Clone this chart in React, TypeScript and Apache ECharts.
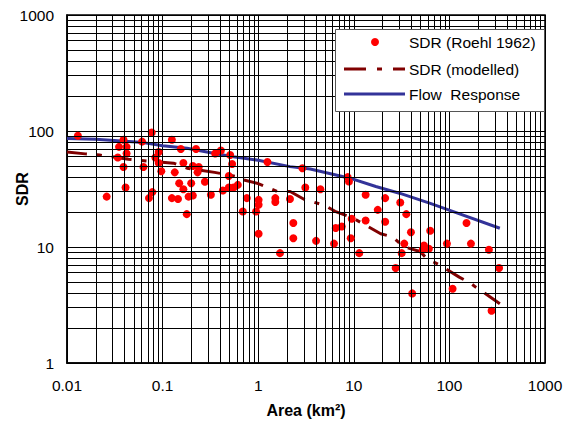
import React, { useEffect, useRef } from 'react';
import * as echarts from 'echarts';

// Observed SDR (Roehl 1962): catchment area (km²) and SDR (%)
const roehlArea = [
  0.013, 0.077, 0.039, 0.035, 0.042, 0.061, 0.125, 0.091, 0.042, 0.034,
  0.084, 0.091, 0.039, 0.063, 0.097, 0.155, 0.224, 0.165, 0.207, 0.239,
  0.232, 0.134, 0.355, 0.407, 0.509, 0.534, 0.493, 0.277, 0.149, 0.199,
  0.165, 0.041, 0.078, 0.072, 0.026, 0.125, 0.145, 0.187, 0.207, 0.32,
  0.427, 0.493, 0.551, 0.612, 0.76, 1.01, 1.01, 1.51, 1.51, 2.15,
  0.69, 0.95, 0.179, 1.01, 1.69, 1.25, 2.9, 8.63, 8.9, 3.11,
  4.47, 13.3, 21.3, 30.6, 17.8, 35.4, 2.33, 2.33, 4.03, 6.21,
  6.47, 7.48, 9.5, 13.3, 9.29, 11.4, 21.3, 39.6, 33.7, 31.7,
  27.4, 40.8, 54.2, 52.5, 61, 63, 94.2, 108, 151, 168,
  259, 331, 276,
];
const roehlSDR = [
  91, 97, 84, 73, 73, 81, 84, 66, 64, 59,
  59, 53, 49, 49, 45, 70, 70, 53, 50, 49,
  44, 44, 64, 68, 62, 52, 41, 36.5, 35.5, 35.5,
  31.5, 32.6, 29.7, 26.4, 27.2, 26.4, 25.9, 27.2, 27.8, 28.2,
  30.7, 32.6, 32.6, 34.3, 26.4, 25.5, 23.1, 26.4, 24.4, 25.9,
  20.2, 20.2, 19.2, 13, 8.86, 54, 47.8, 40, 36.7, 32.6,
  31.5, 28.2, 26.4, 24.2, 20.9, 19.2, 16.1, 11.9, 11.3, 10.7,
  14.6, 15, 17.5, 16.9, 11.9, 8.86, 16.5, 13.4, 10.7, 8.86,
  6.58, 3.98, 10.3, 9.46, 9.66, 13.8, 10.7, 4.37, 16.1, 10.7,
  9.46, 6.58, 2.82,
];

// Modelled SDR
const modelArea = [
  0.01, 0.0155, 0.022, 0.044, 0.071, 0.13, 0.18, 0.35, 0.6, 0.7,
  0.97, 1.58, 2.16, 2.98, 3.78, 5.0, 6.36, 9.88, 19.1, 25.5,
  32.9, 49.2, 58.6, 80.9, 126.7, 166, 188, 239, 337,
];
const modelSDR = [
  66, 63.5, 62, 57, 55, 52.8, 47.8, 44, 40.5, 37.9,
  35.5, 30.1, 30.1, 25.9, 24.4, 22.8, 20.3, 17.7, 13, 12.2,
  10.1, 9.15, 7.9, 6.93, 5.5, 4.89, 4.51, 3.95, 3.24,
];

// Flow response
const flowArea = [0.01, 0.02, 0.063, 0.1, 0.18, 0.34, 0.55, 1.0, 2.15, 3.5, 9.1, 17, 30, 62, 110, 337];
const flowSDR = [86, 85, 79.4, 74.5, 71, 64.4, 60, 56, 49.3, 47, 39.2, 33.2, 29.1, 23.9, 20.2, 14.5];

const legendLabels = ['SDR (Roehl 1962)', 'SDR (modelled)', 'Flow  Response'];
const xAxisTitle = 'Area (km²)';
const yAxisTitle = 'SDR';

const FONT = 'Arial, "Liberation Sans", sans-serif';
const RED = '#ff0000';
const DARKRED = '#800000';
const BLUE = '#333399';
const DASH = [20, 10, 5, 10];

export default function App() {
  const ref = useRef<HTMLDivElement>(null);
  useEffect(() => {
    document.body.style.margin = '0';
    const chart = echarts.init(ref.current!, undefined, { renderer: 'svg' });

    const minorX: number[] = [];
    for (let e = -2; e < 3; e++) for (let k = 2; k <= 9; k++) minorX.push(+(k * Math.pow(10, e)).toPrecision(3));
    const minorY: number[] = [];
    for (let e = 0; e < 3; e++) for (let k = 2; k <= 9; k++) minorY.push(+(k * Math.pow(10, e)).toPrecision(3));

    const fmt = (v: number) => String(+Number(v).toPrecision(4));
    const Z = 100;

    chart.setOption({
      animation: false,
      backgroundColor: '#ffffff',
      grid: {
        left: 67, right: 29, top: 15, bottom: 60,
        containLabel: false,
        outerBoundsMode: 'none',
        show: true,
        borderColor: '#000', borderWidth: 1.5,
        backgroundColor: 'transparent',
      },
      xAxis: {
        type: 'log', logBase: 10, min: 0.01, max: 1000,
        name: xAxisTitle, nameLocation: 'middle', nameGap: 39,
        nameTextStyle: { fontFamily: FONT, fontWeight: 'bold', fontSize: 16, color: '#000' },
        axisLine: { show: true, lineStyle: { color: '#000', width: 1.5 } },
        axisTick: { show: false },
        axisLabel: { fontFamily: FONT, fontSize: 15.5, color: '#000', margin: 14, formatter: fmt, showMinLabel: true, showMaxLabel: true },
        splitLine: { show: true, lineStyle: { color: '#000', width: 1 } },
      },
      yAxis: {
        type: 'log', logBase: 10, min: 1, max: 1000,
        name: yAxisTitle, nameLocation: 'middle', nameGap: 37, nameRotate: 90,
        nameMoveOverlap: false,
        nameTextStyle: { fontFamily: FONT, fontWeight: 'bold', fontSize: 16, color: '#000' },
        axisLine: { show: true, lineStyle: { color: '#000', width: 1.5 } },
        axisTick: { show: false },
        axisLabel: { fontFamily: FONT, fontSize: 15.5, color: '#000', margin: 13, formatter: fmt, showMinLabel: true, showMaxLabel: true },
        splitLine: { show: true, lineStyle: { color: '#000', width: 1 } },
      },
      series: [
        {
          type: 'line', data: [], z: 1, silent: true,
          markLine: {
            silent: true, symbol: ['none', 'none'], label: { show: false },
            lineStyle: { color: '#000', width: 1, type: 'solid' },
            emphasis: { disabled: true },
            data: [
              ...minorX.map((v) => ({ xAxis: v })),
              ...minorY.map((v) => ({ yAxis: v })),
            ],
          },
        },
        {
          name: legendLabels[2], type: 'line', z: 3,
          data: flowArea.map((a, i) => [a, flowSDR[i]]),
          showSymbol: false, symbol: 'none',
          lineStyle: { color: BLUE, width: 3 },
        },
        {
          name: legendLabels[1], type: 'line', z: 3,
          data: modelArea.map((a, i) => [a, modelSDR[i]]),
          showSymbol: false, symbol: 'none',
          lineStyle: { color: DARKRED, width: 3, type: DASH },
        },
        {
          name: legendLabels[0], type: 'scatter', z: 4,
          data: roehlArea.map((a, i) => [a, roehlSDR[i]]),
          symbol: 'circle', symbolSize: 8,
          itemStyle: { color: RED, opacity: 1 },
        },
      ],
      graphic: [
        { type: 'rect', z: Z, shape: { x: 335.5, y: 29.5, width: 209, height: 82 }, style: { fill: '#fff', stroke: '#555', lineWidth: 1 } },
        { type: 'circle', z: Z + 1, shape: { cx: 375, cy: 42, r: 4 }, style: { fill: RED } },
        { type: 'line', z: Z + 1, shape: { x1: 344, y1: 69, x2: 405, y2: 69 }, style: { stroke: DARKRED, lineWidth: 3, lineDash: [22, 11, 5, 11] } },
        { type: 'line', z: Z + 1, shape: { x1: 344, y1: 94, x2: 405, y2: 94 }, style: { stroke: BLUE, lineWidth: 3 } },
        { type: 'text', z: Z + 1, x: 409, y: 42, style: { text: legendLabels[0], font: `15.5px ${FONT}`, fill: '#000', verticalAlign: 'middle' } },
        { type: 'text', z: Z + 1, x: 409, y: 69, style: { text: legendLabels[1], font: `15.5px ${FONT}`, fill: '#000', verticalAlign: 'middle' } },
        { type: 'text', z: Z + 1, x: 409, y: 94, style: { text: legendLabels[2], font: `15.5px ${FONT}`, fill: '#000', verticalAlign: 'middle' } },
      ],
    });
    return () => chart.dispose();
  }, []);
  return <div ref={ref} style={{ position: 'fixed', left: 0, top: 0, width: 574, height: 423, background: '#fff' }} />;
}
